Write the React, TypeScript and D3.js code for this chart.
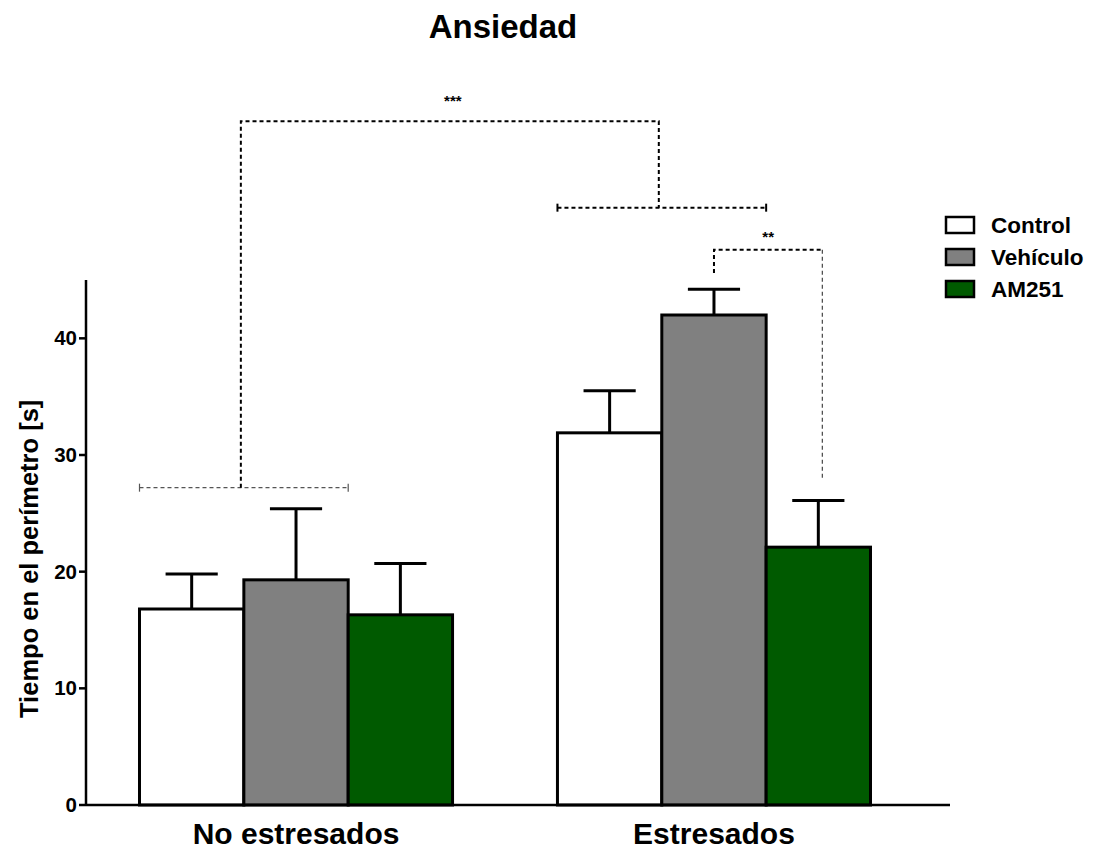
import React from "react";
import * as d3 from "d3";

const W = 1095;
const H = 849;

const GROUPS = ["No estresados", "Estresados"];
const SERIES = ["Control", "Vehículo", "AM251"];
const COLORS = ["#ffffff", "#808080", "#005a00"];
// means and upper SEM per group, in series order
const MEANS = [
  [16.8, 19.3, 16.3],
  [31.9, 42.0, 22.1],
];
const SEM = [
  [3.0, 6.1, 4.4],
  [3.6, 2.2, 4.0],
];
const Y_TICKS = [0, 10, 20, 30, 40];

// significance annotations, heights in data units
const GROUP_BRACKET_Y = [27.2, 51.2];
const MAIN_BRACKET_Y = 58.6;
const PAIR_TOP_Y = 47.6;
const PAIR_LEFT_Y = 45.6;
const PAIR_RIGHT_Y = 27.9;

const x0 = d3.scaleBand<string>().domain(GROUPS).range([86, 924]).paddingInner(0.251).paddingOuter(0.128);
const x1 = d3.scaleBand<string>().domain(SERIES).range([0, x0.bandwidth()]);
const y = d3.scaleLinear().domain([0, 45]).range([805, 280]);

export default function App() {
  const bw = x1.bandwidth();
  const center = (g: number, s: number) => (x0(GROUPS[g]) as number) + (x1(SERIES[s]) as number) + bw / 2;
  const groupStart = (g: number) => x0(GROUPS[g]) as number;
  const groupMid = (g: number) => groupStart(g) + x0.bandwidth() / 2;

  const font = "'Liberation Sans', Arial, sans-serif";

  return (
    <svg width={W} height={H} style={{ position: "absolute", left: 0, top: 0, background: "#fff" }} fontFamily={font}>
      <text x={503} y={38} textAnchor="middle" fontSize={33} fontWeight="bold">Ansiedad</text>

      {/* bars */}
      {MEANS.map((vals, g) =>
        vals.map((v, s) => {
          const cx = center(g, s);
          const top = y(v);
          const err = y(v + SEM[g][s]);
          return (
            <g key={`${g}-${s}`}>
              <line x1={cx} x2={cx} y1={top} y2={err} stroke="#000" strokeWidth={3} />
              <line x1={cx - bw / 4} x2={cx + bw / 4} y1={err} y2={err} stroke="#000" strokeWidth={3} />
              <rect x={cx - bw / 2} y={top} width={bw} height={y(0) - top} fill={COLORS[s]} stroke="#000" strokeWidth={3} />
            </g>
          );
        })
      )}

      {/* axes */}
      <line x1={86} x2={86} y1={280} y2={y(0)} stroke="#000" strokeWidth={2.5} />
      <line x1={86} x2={950} y1={y(0)} y2={y(0)} stroke="#000" strokeWidth={2.5} />
      {Y_TICKS.map((t) => (
        <g key={t}>
          <line x1={79} x2={86} y1={y(t)} y2={y(t)} stroke="#000" strokeWidth={2.5} />
          <text x={77} y={y(t) + 7} textAnchor="end" fontSize={20.5} fontWeight="bold">{t}</text>
        </g>
      ))}
      {GROUPS.map((gname, g) => (
        <text key={gname} x={groupMid(g)} y={844} textAnchor="middle" fontSize={30} fontWeight="bold">{gname}</text>
      ))}
      <text transform={`translate(38,${y(21.1)}) rotate(-90)`} textAnchor="middle" fontSize={25.5} fontWeight="bold">
        Tiempo en el perímetro [s]
      </text>

      {/* group brackets */}
      {GROUP_BRACKET_Y.map((by, g) => {
        const yy = y(by);
        const col = g === 0 ? "#555" : "#000";
        const sw = g === 0 ? 1.2 : 2;
        return (
          <g key={g} stroke={col} strokeWidth={sw}>
            <line x1={groupStart(g)} x2={groupStart(g) + 2 * bw} y1={yy} y2={yy} strokeDasharray="4,3" />
            <line x1={groupStart(g)} x2={groupStart(g)} y1={yy - 4} y2={yy + 4} />
            <line x1={groupStart(g) + 2 * bw} x2={groupStart(g) + 2 * bw} y1={yy - 4} y2={yy + 4} />
          </g>
        );
      })}
      {(() => {
        const xa = groupStart(0) + bw - 3;
        const xb = groupStart(1) + bw - 3;
        const top = y(MAIN_BRACKET_Y);
        return (
          <g fill="none" stroke="#000" strokeWidth={2} strokeDasharray="4,3">
            <path d={`M${xa},${y(GROUP_BRACKET_Y[0])}V${top}H${xb}V${y(GROUP_BRACKET_Y[1])}`} />
          </g>
        );
      })()}
      <text x={(groupStart(0) + bw + groupStart(1) + bw) / 2} y={106} textAnchor="middle" fontSize={15} fontWeight="bold">***</text>

      {/* pair bracket */}
      {(() => {
        const xa = center(1, 1);
        const xb = center(1, 2) + 4;
        const top = y(PAIR_TOP_Y);
        return (
          <g fill="none" strokeDasharray="4,3">
            <path d={`M${xa},${y(PAIR_LEFT_Y)}V${top}H${xb}`} stroke="#000" strokeWidth={2} />
            <path d={`M${xb},${top}V${y(PAIR_RIGHT_Y)}`} stroke="#444" strokeWidth={1.2} />
            <text x={(xa + xb) / 2} y={242} textAnchor="middle" fontSize={15} fontWeight="bold" stroke="none" fill="#000">**</text>
          </g>
        );
      })()}

      {/* legend */}
      {SERIES.map((s, i) => (
        <g key={s} transform={`translate(946,${217 + i * 32})`}>
          <rect x={0} y={0} width={28} height={16} fill={COLORS[i]} stroke="#000" strokeWidth={2.5} />
          <text x={45} y={16} fontSize={22.5} fontWeight="bold">{s}</text>
        </g>
      ))}
    </svg>
  );
}
